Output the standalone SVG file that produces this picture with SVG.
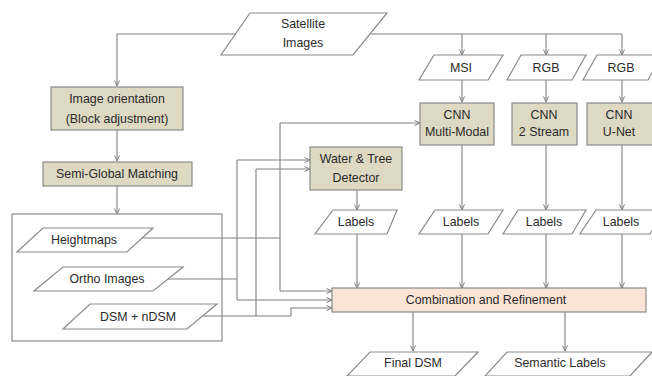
<svg xmlns="http://www.w3.org/2000/svg" width="652" height="376" viewBox="0 0 652 376">
<defs>
<marker id="arr" markerUnits="userSpaceOnUse" markerWidth="8" markerHeight="8" refX="6" refY="3" orient="auto">
<path d="M0.5,0.5 L6,3 L0.5,5.5" fill="none" stroke="#808080" stroke-width="1"/>
</marker>
<style>
.box{fill:#ddd9c3;stroke:#8a8a8a;stroke-width:1.2}
.comb{fill:#fbe4d5;stroke:#8a8a8a;stroke-width:1.2}
.para{fill:#ffffff;stroke:#8a8a8a;stroke-width:1.2}
.frame{fill:none;stroke:#8a8a8a;stroke-width:1.2}
.ln{fill:none;stroke:#808080;stroke-width:1.1}
.a{marker-end:url(#arr)}
text{font-family:"Liberation Sans",Arial,sans-serif;font-size:12.4px;fill:#2b2b2b;text-anchor:middle}
</style>
</defs>
<rect width="652" height="376" fill="#ffffff"/>

<g id="connectors">
<polyline class="ln a" points="236,34 117,34 117,86"/>
<polyline class="ln" points="371,34 622,34"/>
<line class="ln a" x1="462" y1="34" x2="462" y2="55"/>
<line class="ln a" x1="546" y1="34" x2="546" y2="55"/>
<line class="ln a" x1="622" y1="34" x2="622" y2="55"/>
<line class="ln a" x1="462" y1="80" x2="462" y2="102"/>
<line class="ln a" x1="546" y1="80" x2="546" y2="102"/>
<line class="ln a" x1="622" y1="80" x2="622" y2="102"/>
<line class="ln a" x1="117" y1="130" x2="117" y2="161"/>
<line class="ln a" x1="117" y1="186" x2="117" y2="214"/>
<line class="ln a" x1="357" y1="190" x2="357" y2="210"/>
<line class="ln a" x1="462" y1="145" x2="462" y2="210"/>
<line class="ln a" x1="546" y1="145" x2="546" y2="210"/>
<line class="ln a" x1="622" y1="145" x2="622" y2="210"/>
<line class="ln a" x1="357" y1="234" x2="357" y2="288"/>
<line class="ln a" x1="462" y1="234" x2="462" y2="288"/>
<line class="ln a" x1="546" y1="234" x2="546" y2="288"/>
<line class="ln a" x1="622" y1="234" x2="622" y2="288"/>
<polyline class="ln" points="140,238 280,238"/>
<polyline class="ln" points="280,123 280,291"/>
<line class="ln a" x1="280" y1="123" x2="420" y2="123"/>
<line class="ln a" x1="280" y1="291" x2="332" y2="291"/>
<polyline class="ln" points="168,279 237,279"/>
<polyline class="ln" points="237,160 237,300"/>
<line class="ln a" x1="237" y1="160" x2="310" y2="160"/>
<line class="ln a" x1="237" y1="300" x2="332" y2="300"/>
<polyline class="ln a" points="203,316 291,316 291,308 332,308"/>
<polyline class="ln" points="256,316 256,169"/>
<line class="ln a" x1="256" y1="169" x2="310" y2="169"/>
<line class="ln a" x1="413" y1="312" x2="413" y2="351"/>
<line class="ln a" x1="565" y1="312" x2="565" y2="351"/>
</g>

<g id="satellite">
<polygon class="para" points="250,13 387,13 353,55 221,55"/>
<text x="303" y="28">Satellite</text>
<text x="303" y="47">Images</text>
</g>
<g id="msi">
<polygon class="para" points="434,55 503,55 488,80 419,80"/>
<text x="461" y="72">MSI</text>
</g>
<g id="rgb1">
<polygon class="para" points="521,55 586,55 572,80 507,80"/>
<text x="546" y="72">RGB</text>
</g>
<g id="rgb2">
<polygon class="para" points="597,55 662,55 648,80 583,80"/>
<text x="621" y="72">RGB</text>
</g>
<g id="image-orientation">
<rect class="box" x="51" y="87" width="132" height="43"/>
<text x="117" y="103">Image orientation</text>
<text x="117" y="122.5">(Block adjustment)</text>
</g>
<g id="sgm">
<rect class="box" x="43" y="162" width="149" height="24"/>
<text x="117" y="177.5">Semi-Global Matching</text>
</g>
<g id="cnn-mm">
<rect class="box" x="420" y="103" width="74" height="42"/>
<text x="457" y="119">CNN</text>
<text x="457" y="136">Multi-Modal</text>
</g>
<g id="cnn-2s">
<rect class="box" x="512" y="103" width="65" height="42"/>
<text x="544" y="119">CNN</text>
<text x="544" y="136">2 Stream</text>
</g>
<g id="cnn-unet">
<rect class="box" x="587" y="103" width="70" height="42"/>
<text x="619" y="119">CNN</text>
<text x="619" y="136">U-Net</text>
</g>
<g id="water-tree">
<rect class="box" x="310" y="147" width="92" height="43"/>
<text x="356" y="162.5">Water &amp; Tree</text>
<text x="356" y="181.5">Detector</text>
</g>
<g id="labels1">
<polygon class="para" points="333,210 397,210 387,234 315,234"/>
<text x="356" y="226">Labels</text>
</g>
<g id="labels2">
<polygon class="para" points="435,210 503,210 488,234 419,234"/>
<text x="461" y="226">Labels</text>
</g>
<g id="labels3">
<polygon class="para" points="518,210 586,210 572,234 503,234"/>
<text x="544" y="226">Labels</text>
</g>
<g id="labels4">
<polygon class="para" points="596,210 664,210 650,234 580,234"/>
<text x="621" y="226">Labels</text>
</g>
<g id="inputs-frame">
<rect class="frame" x="12" y="214" width="210" height="127"/>
</g>
<g id="heightmaps">
<polygon class="para" points="43,228 153,228 127,252 17,252"/>
<text x="84" y="243.5">Heightmaps</text>
</g>
<g id="ortho">
<polygon class="para" points="63,267 183,267 153,291 34,291"/>
<text x="107" y="282.5">Ortho Images</text>
</g>
<g id="dsm">
<polygon class="para" points="90,304 217,304 187,329 63,329"/>
<text x="138" y="320.5">DSM + nDSM</text>
</g>
<g id="combination">
<rect class="comb" x="332" y="288" width="314" height="24"/>
<text x="486" y="303.5">Combination and Refinement</text>
</g>
<g id="final-dsm">
<polygon class="para" points="370,352 478,352 455,376 347,376"/>
<text x="413" y="367">Final DSM</text>
</g>
<g id="semantic">
<polygon class="para" points="507,352 652,352 630,376 485,376"/>
<text x="560" y="367">Semantic Labels</text>
</g>
</svg>
